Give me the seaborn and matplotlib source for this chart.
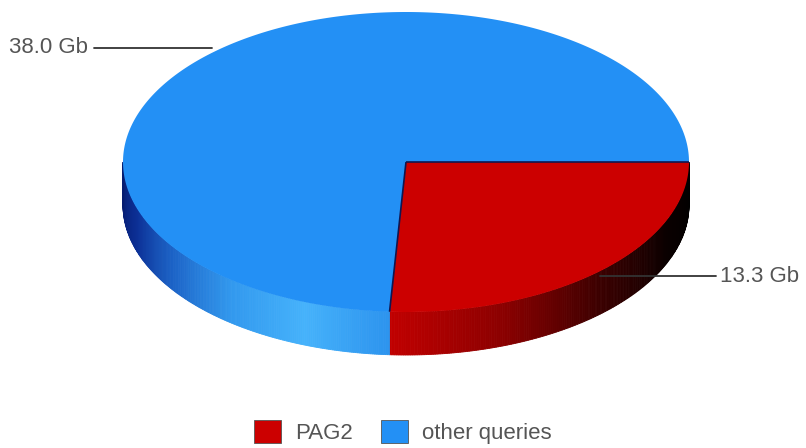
import numpy as np
import matplotlib
matplotlib.use("Agg")
import matplotlib.pyplot as plt
from matplotlib.patches import Patch
import seaborn as sns

# Data
categories = ["PAG2", "other queries"]
sizes_gb = [13.3, 38.0]
top_colors = ["#cc0000", "#2390f5"]

sns.set_theme(style="white")
plt.rcParams["font.family"] = ["Liberation Sans", "DejaVu Sans"]

W, H, DPI = 806, 448, 100
fig = plt.figure(figsize=(W / DPI, H / DPI), dpi=DPI)
ax = fig.add_axes([0, 0, 1, 1])
ax.set_xlim(0, W)
ax.set_ylim(H, 0)
ax.axis("off")

# Pie geometry (screen units): ellipse centre, radii and rim depth
cx, cy, rx, ry, depth = 406, 162, 283, 150, 43

vals = np.array(sizes_gb, dtype=float)
bounds = np.concatenate([[0.0], np.cumsum(vals) / vals.sum() * 2 * np.pi])


def rim(t, dy=0.0):
    return cx + rx * np.cos(t), cy + ry * np.sin(t) + dy


# Shading along the visible rim for each slice, ordered from start to end angle
side_palettes = [
    sns.blend_palette(["#000000", "#0a0000", "#3a0000", "#8a0000", "#c00000"], 200),
    sns.blend_palette(["#2d94ee", "#45b2fb", "#3299ee", "#1c64c8", "#0c2f95", "#061c70"], 200),
]

# Rim (front half only, angles 0..pi)
for i in range(len(vals)):
    a0, a1 = bounds[i], min(bounds[i + 1], np.pi)
    if a1 <= a0:
        continue
    ts = np.linspace(a0, a1, 201)
    pal = side_palettes[i]
    span = a1 - a0
    for k in range(len(ts) - 1):
        t0, t1 = ts[k], ts[k + 1]
        x0, y0 = rim(t0)
        x1, y1 = rim(t1)
        xs = [x0, x1, x1, x0]
        ys = [y0, y1, y1 + depth, y0 + depth]
        frac = (0.5 * (t0 + t1) - a0) / span
        c = pal[min(int(frac * len(pal)), len(pal) - 1)]
        ax.fill(xs, ys, color=c, lw=0.6, ec=c, zorder=1)

# Top faces
for i in range(len(vals)):
    ts = np.linspace(bounds[i], bounds[i + 1], 300)
    xs, ys = rim(ts)
    ax.fill(np.r_[cx, xs], np.r_[cy, ys], color=top_colors[i], lw=0, zorder=2)

# Slice seams on the top face
for b in bounds[:-1]:
    x, y = rim(b)
    ax.plot([cx, x], [cy, y], color="#101650", lw=1.2, zorder=3, solid_capstyle="butt")

# Value labels with horizontal leader lines
for i, v in enumerate(vals):
    mid = 0.5 * (bounds[i] + bounds[i + 1])
    x, y = rim(mid)
    right = np.cos(mid) >= 0
    x_end = x + 116 if right else x - 118
    ly = y + (5 if right else -5)
    ax.plot([x, x_end], [ly, ly], color="#333333", lw=1.3, zorder=4)
    ax.text(x_end + (4 if right else -6), ly, f"{v:.1f} Gb",
            ha="left" if right else "right", va="center", fontsize=16, color="#555555", zorder=5)

handles = [Patch(facecolor=c, edgecolor="#555555", lw=0.6) for c in top_colors]
ax.legend(handles, categories, loc="lower center", bbox_to_anchor=(0.5, -0.035), ncol=2,
          frameon=False, fontsize=16, handlelength=1.2, handleheight=1.2,
          handletextpad=0.65, columnspacing=1.25, labelcolor="#555555")

fig.savefig("out.png", dpi=DPI, facecolor="white")
